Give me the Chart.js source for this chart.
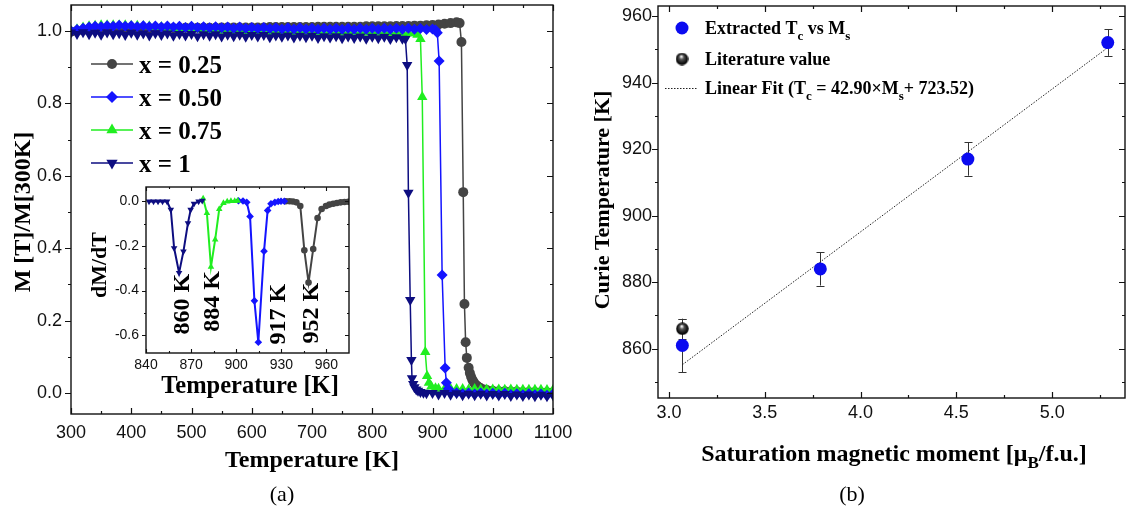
<!DOCTYPE html>
<html><head><meta charset="utf-8">
<script src="https://cdn.jsdelivr.net/npm/chart.js@4.4.0/dist/chart.umd.min.js"></script>
<style>
html,body{margin:0;padding:0;background:#fff;}
#wrap{position:relative;width:1128px;height:516px;overflow:hidden;background:#fff;}
canvas{position:absolute;}
</style></head><body>
<div id="wrap">
<canvas id="cA" width="600" height="516" style="left:0;top:0;width:600px;height:516px"></canvas>
<canvas id="cB" width="564" height="516" style="left:564px;top:0;width:564px;height:516px"></canvas>
<canvas id="cI" width="280" height="220" style="left:80px;top:180px;width:280px;height:220px"></canvas>
</div>
<script>
// ================= DATA =================
// Panel (a): M(T)/M(300K)
const seriesNames = ['x = 0.25','x = 0.50','x = 0.75','x = 1'];

const tGray = [300,310,320,330,340,350,360,370,380,390,400,410,420,430,440,450,460,470,480,490,500,510,520,530,540,550,560,570,580,590,600,610,620,630,640,650,660,670,680,690,700,710,720,730,740,750,760,770,780,790,800,810,820,830,840,850,860,870,880,890,900,910,920,930,940,
  945,948,951,953,955,957,960,962,964,966,968,970,973,976,980,985,990,
  1000,1010,1020,1030,1040,1050,1060,1070,1080,1090,1100];
const mGray = [0.998,1.000,1.002,1.003,1.004,1.005,1.005,1.006,1.006,1.006,
  1.007,1.007,1.007,1.007,1.008,1.008,1.008,1.008,1.008,1.009,
  1.009,1.009,1.009,1.009,1.009,1.010,1.010,1.010,1.010,1.010,
  1.010,1.010,1.010,1.011,1.011,1.011,1.011,1.011,1.011,1.011,
  1.011,1.012,1.012,1.012,1.012,1.012,1.012,1.012,1.012,1.013,
  1.013,1.013,1.013,1.013,1.014,1.014,1.014,1.015,1.015,1.016,
  1.017,1.018,1.020,1.022,1.024,
  1.022,0.970,0.555,0.246,0.140,0.097,0.070,0.055,0.045,0.037,0.031,0.026,0.021,0.017,0.013,0.010,0.008,
  0.006,0.005,0.005,0.004,0.004,0.003,0.003,0.003,0.002,0.002,0.002];

const tBlue = [300,310,320,330,340,350,360,370,380,390,400,410,420,430,440,450,460,470,480,490,500,510,520,530,540,550,560,570,580,590,600,610,620,630,640,650,660,670,680,690,700,710,720,730,740,750,760,770,780,790,800,810,820,830,840,850,860,870,880,890,900,
  905,908,911,916,921,923,926,930,
  940,950,960,970,980,990,1000,1010,1020,1030,1040,1050,1060,1070,1080,1090,1100];
const mBlue = [1.000,1.004,1.008,1.011,1.013,1.012,1.015,1.013,1.016,1.013,
  1.015,1.012,1.015,1.012,1.014,1.011,1.014,1.011,1.013,1.010,
  1.013,1.010,1.012,1.009,1.012,1.009,1.011,1.008,1.011,1.008,
  1.010,1.007,1.010,1.007,1.009,1.006,1.009,1.006,1.009,1.006,
  1.008,1.005,1.008,1.005,1.008,1.005,1.008,1.005,1.008,1.005,
  1.008,1.005,1.008,1.005,1.008,1.005,1.008,1.005,1.007,1.004,
  1.006,
  1.003,0.995,0.917,0.326,0.069,0.028,0.012,0.004,
  0.001,-0.002,0.000,-0.003,0.000,-0.003,-0.001,-0.004,-0.001,-0.004,-0.002,-0.005,-0.002,-0.005,-0.003,-0.006,-0.003];

const tGreen = [300,310,320,330,340,350,360,370,380,390,400,410,420,430,440,450,460,470,480,490,500,510,520,530,540,550,560,570,580,590,600,610,620,630,640,650,660,670,680,690,700,710,720,730,740,750,760,770,780,790,800,810,820,830,840,850,860,870,
  875,880,883,888,891,894,898,905,
  910,920,930,940,950,960,970,980,990,1000,1010,1020,1030,1040,1050,1060,1070,1080,1090,1100];
const mGreen = [1.000,1.005,1.010,1.013,1.015,1.016,1.016,1.016,1.016,1.016,
  1.015,1.015,1.014,1.013,1.012,1.011,1.010,1.009,1.008,1.007,
  1.006,1.005,1.004,1.003,1.002,1.001,1.000,0.999,0.999,0.998,
  0.998,0.997,0.997,0.997,0.996,0.996,0.996,0.996,0.996,0.996,
  0.996,0.996,0.995,0.995,0.995,0.995,0.995,0.995,0.995,0.995,
  0.995,0.995,0.995,0.994,0.994,0.994,0.994,0.994,
  0.990,0.978,0.818,0.113,0.047,0.028,0.018,0.013,
  0.012,0.011,0.012,0.011,0.011,0.010,0.011,0.010,0.010,0.010,0.010,0.009,0.010,0.009,0.009,0.009,0.009,0.009,0.008,0.008];

const tNavy = [300,310,320,330,340,350,360,370,380,390,400,410,420,430,440,450,460,470,480,490,500,510,520,530,540,550,560,570,580,590,600,610,620,630,640,650,660,670,680,690,700,710,720,730,740,750,760,770,780,790,800,810,820,830,840,850,
  855,858,860,863,865,866,868,870,873,876,880,885,890,900,
  910,920,930,940,950,960,970,980,990,1000,1010,1020,1030,1040,1050,1060,1070,1080,1090,1100];
const mNavy = [0.996,0.992,0.997,0.991,0.995,0.990,0.996,0.991,0.994,0.989,
  0.995,0.990,0.993,0.988,0.994,0.989,0.993,0.987,0.992,0.988,
  0.992,0.986,0.991,0.987,0.991,0.985,0.990,0.986,0.990,0.984,
  0.989,0.985,0.989,0.983,0.988,0.984,0.988,0.982,0.987,0.983,
  0.987,0.981,0.986,0.982,0.986,0.980,0.985,0.981,0.985,0.979,
  0.984,0.980,0.984,0.978,0.983,0.979,
  0.978,0.906,0.553,0.257,0.091,0.041,0.025,0.016,0.010,0.006,0.003,0.001,-0.001,0.000,
  -0.004,0.000,-0.005,-0.001,-0.006,-0.002,-0.006,-0.002,-0.007,-0.003,-0.007,-0.003,-0.008,-0.004,-0.008,-0.004,-0.009,-0.005,-0.009,-0.006];

const aXTicks = [300,400,500,600,700,800,900,1000,1100];
const aXMinor = [350,450,550,650,750,850,950,1050];
const aYTicks = [0,0.2,0.4,0.6,0.8,1.0];
const aYMinor = [0.1,0.3,0.5,0.7,0.9];

// Inset: dM/dT
const iNavyT = [842,845,848,851,854,856.5,858.7,862,864.9,867.9,869.7,871.9,875,877.4];
const iNavyV = [0,0,0,0,0,-0.037,-0.209,-0.32,-0.224,-0.097,-0.037,-0.01,0,0.004];
const iGreenT = [878,880.5,883.2,886,888.7,891.5,894,896.5,899,901];
const iGreenV = [0.013,-0.052,-0.293,-0.171,-0.034,-0.007,0,0.002,0.002,0.003];
const iBlueT = [901.5,904.5,907,909.2,912.1,914.7,918.5,920.9,923.1,925.7,927.9,929.8,932];
const iBlueV = [0.003,0.002,-0.004,-0.067,-0.446,-0.632,-0.223,-0.04,-0.01,-0.004,0,0.001,0.001];
const iGrayT = [933,935.5,937.7,940,942.6,945.3,948.1,951.2,954.1,956.8,959.7,962,964.5,967,969.5,972,974.5];
const iGrayV = [0.001,0.001,0,-0.004,-0.02,-0.219,-0.364,-0.213,-0.074,-0.034,-0.02,-0.014,-0.01,-0.007,-0.004,-0.002,-0.001];
const iXTicks = [840,870,900,930,960];
const iXMinor = [855,885,915,945];
const iYTicks = [0,-0.2,-0.4,-0.6];
const iYMinor = [-0.1,-0.3,-0.5];
const peakLabels = ['860 K','884 K','917 K','952 K'];
const peakLabelT = [863,883.4,926.8,949.2];
const peakLabelV = [-0.461,-0.448,-0.506,-0.501];

// Panel (b): Curie temperature vs saturation moment
const msVals = [3.07,3.79,4.56,5.29];
const tcVals = [861,884,917,952];
const tcErr = [8,5,5,4];
const litMs = [3.07];
const litTc = [866];
const litErr = [3];
const fitMs = [3.07,5.29];
const fitTc = [855.2,950.5];
const bXTicks = [3.0,3.5,4.0,4.5,5.0];
const bXMinor = [3.25,3.75,4.25,4.75,5.25];
const bYTicks = [860,880,900,920,940,960];
const bYMinor = [850,870,890,910,930,950];

// ================= HELPERS =================
const SERIF = '"Liberation Serif","Times New Roman",serif';
const SANS = '"Liberation Sans",Arial,sans-serif';
Chart.defaults.font.family = SANS;

function pts(xs, ys){ return xs.map((x,i)=>({x:x, y:ys[i]})); }

function richText(ctx, parts, x, y, size, opts){
  opts = opts || {};
  ctx.save();
  ctx.translate(x, y);
  if (opts.rot) ctx.rotate(opts.rot);
  const weight = opts.weight || 'bold';
  const f = sub => weight + ' ' + (sub ? Math.round(size*0.7) : size) + 'px ' + SERIF;
  let w = 0;
  parts.forEach(p => { ctx.font = f(p[1]); w += ctx.measureText(p[0]).width; });
  let cx = opts.align === 'left' ? 0 : -w/2;
  ctx.fillStyle = opts.color || '#000';
  ctx.textBaseline = 'alphabetic';
  const base = size*0.34;
  parts.forEach(p => {
    ctx.font = f(p[1]);
    ctx.fillText(p[0], cx, base + (p[1] ? size*0.3 : 0));
    cx += ctx.measureText(p[0]).width;
  });
  ctx.restore();
}

function marker(ctx, style, x, y, r, color){
  ctx.save(); ctx.fillStyle = color; ctx.beginPath();
  if (style === 'circle') ctx.arc(x, y, r, 0, 2*Math.PI);
  else if (style === 'diamond') { ctx.moveTo(x, y-r); ctx.lineTo(x+r, y); ctx.lineTo(x, y+r); ctx.lineTo(x-r, y); ctx.closePath(); }
  else if (style === 'up') { ctx.moveTo(x, y-r); ctx.lineTo(x+r*0.866, y+r*0.5); ctx.lineTo(x-r*0.866, y+r*0.5); ctx.closePath(); }
  else if (style === 'down') { ctx.moveTo(x, y+r); ctx.lineTo(x+r*0.866, y-r*0.5); ctx.lineTo(x-r*0.866, y-r*0.5); ctx.closePath(); }
  ctx.fill(); ctx.restore();
}

function drawFrame(chart, o){
  const ctx = chart.ctx, a = chart.chartArea, xs = chart.scales.x, ys = chart.scales.y;
  ctx.save();
  ctx.strokeStyle = '#111'; ctx.lineWidth = o.lw;
  const L = a.left, R = a.right, T = a.top, B = a.bottom;
  ctx.strokeRect(L, T, R-L, B-T);
  ctx.lineWidth = o.tw;
  ctx.beginPath();
  const vx = (v, len) => { const p = Math.round(xs.getPixelForValue(v))+0.5; ctx.moveTo(p, B); ctx.lineTo(p, B-len); ctx.moveTo(p, T); ctx.lineTo(p, T+len); };
  const vy = (v, len) => { const p = Math.round(ys.getPixelForValue(v))+0.5; ctx.moveTo(L, p); ctx.lineTo(L-len, p); ctx.moveTo(R, p); ctx.lineTo(R-len, p); };
  o.xMaj.forEach(v => vx(v, o.maj)); o.xMin.forEach(v => vx(v, o.min));
  o.yMaj.forEach(v => vy(v, o.maj)); o.yMin.forEach(v => vy(v, o.min));
  ctx.stroke();
  ctx.restore();
}

function axis(min, max, ticks, fmt, pad, size, fitKey, fitVal){
  return {
    type:'linear', min:min, max:max,
    afterBuildTicks: s => { s.ticks = ticks.map(v => ({value:v})); },
    afterFit: s => { s[fitKey] = fitVal; s.paddingTop = 0; s.paddingBottom = 0; s.paddingLeft = 0; s.paddingRight = 0; },
    grid:{display:false, drawTicks:false}, border:{display:false},
    ticks:{padding:pad, font:{size:size, family:SANS}, color:'#111', autoSkip:false, maxRotation:0, minRotation:0, callback: fmt}
  };
}

function ds(xs, ys, color, style, rot, r, order, lw){
  return {data:pts(xs,ys), showLine:true, borderColor:color, backgroundColor:color, borderWidth:lw,
    pointStyle:style, pointRotation:rot, pointRadius:r, pointHoverRadius:r, pointBorderWidth:0,
    pointBackgroundColor:color, order:order, tension:0};
}

const baseOpts = {responsive:false, animation:false, devicePixelRatio:1, events:[],
  plugins:{legend:{display:false}, tooltip:{enabled:false}}};

const cNavy = '#0d0d80', cBlue = '#1414ff', cGreen = '#20ee20', cGray = '#444444';

// ================= PANEL (a) =================
new Chart(document.getElementById('cA'), {
  type:'scatter',
  data:{datasets:[
    ds(tNavy, mNavy, cNavy, 'triangle', 180, 6, 0, 1.5),
    ds(tBlue, mBlue, cBlue, 'rectRot', 0, 5.5, 1, 1.5),
    ds(tGreen, mGreen, cGreen, 'triangle', 0, 6, 2, 1.5),
    ds(tGray, mGray, cGray, 'circle', 0, 5, 3, 1.5)
  ]},
  options:Object.assign({}, baseOpts, {
    layout:{padding:{left:0,right:47,top:5,bottom:0}, autoPadding:false},
    scales:{
      x: axis(300, 1100, aXTicks, v => String(v), 8, 18, 'height', 102),
      y: axis(-0.058, 1.072, aYTicks, v => Number(v).toFixed(1), 9, 18, 'width', 71)
    }
  }),
  plugins:[{id:'decoA', afterDraw(chart){
    const ctx = chart.ctx;
    drawFrame(chart, {lw:1.4, tw:1.2, maj:6, min:3, xMaj:aXTicks, xMin:aXMinor, yMaj:aYTicks, yMin:aYMinor});
    richText(ctx, [['M [T]/M[300K]']], 22, 212, 24, {rot:-Math.PI/2});
    richText(ctx, [['Temperature [K]']], 312, 459, 24);
    richText(ctx, [['(a)']], 282, 494, 22, {weight:'normal'});
    const rows = [[cGray,'circle',5],[cBlue,'diamond',6],[cGreen,'up',6.5],[cNavy,'down',6.5]];
    const ry = [64, 97, 130, 163];
    rows.forEach((r,i) => {
      ctx.save(); ctx.strokeStyle = r[0]; ctx.lineWidth = 1.5;
      ctx.beginPath(); ctx.moveTo(91, ry[i]); ctx.lineTo(133, ry[i]); ctx.stroke(); ctx.restore();
      marker(ctx, r[1], 112, ry[i], r[2], r[0]);
      richText(ctx, [[seriesNames[i]]], 139, ry[i], 25, {align:'left'});
    });
  }}]
});

// ================= INSET =================
new Chart(document.getElementById('cI'), {
  type:'scatter',
  data:{datasets:[
    ds(iNavyT, iNavyV, cNavy, 'triangle', 180, 3.8, 0, 2),
    ds(iGreenT, iGreenV, cGreen, 'triangle', 0, 3.8, 1, 2),
    ds(iBlueT, iBlueV, cBlue, 'rectRot', 0, 3.8, 2, 2),
    ds(iGrayT, iGrayV, cGray, 'circle', 0, 3.3, 3, 2)
  ]},
  options:Object.assign({}, baseOpts, {
    layout:{padding:{left:0,right:11,top:7,bottom:0}, autoPadding:false},
    scales:{
      x: axis(840, 975, iXTicks, v => String(v), 4, 14, 'height', 47),
      y: axis(-0.68, 0.065, iYTicks, v => Number(v).toFixed(1), 7, 14, 'width', 66)
    }
  }),
  plugins:[{id:'decoI',
    beforeDatasetsDraw(chart){
      const a = chart.chartArea, ctx = chart.ctx;
      ctx.save(); ctx.fillStyle = '#fff'; ctx.fillRect(a.left, a.top, a.right-a.left, a.bottom-a.top); ctx.restore();
    },
    afterDraw(chart){
      const ctx = chart.ctx, xs = chart.scales.x, ys = chart.scales.y;
      drawFrame(chart, {lw:1.4, tw:1.1, maj:4, min:2, xMaj:iXTicks, xMin:iXMinor, yMaj:iYTicks, yMin:iYMinor});
      peakLabels.forEach((t,i) => {
        richText(ctx, [[t]], xs.getPixelForValue(peakLabelT[i]), ys.getPixelForValue(peakLabelV[i]), 24, {rot:-Math.PI/2});
      });
      richText(ctx, [['dM/dT']], 19, 85, 22, {rot:-Math.PI/2});
      richText(ctx, [['Temperature [K]']], 170, 205, 24.5);
    }}]
});

// ================= PANEL (b) =================
function sphere(d){
  const c = document.createElement('canvas'); c.width = d; c.height = d;
  const g = c.getContext('2d');
  const gr = g.createRadialGradient(d*0.45, d*0.3, d*0.04, d/2, d/2, d/2);
  gr.addColorStop(0, '#f4f4f4'); gr.addColorStop(0.3, '#555'); gr.addColorStop(0.75, '#111'); gr.addColorStop(1, '#000');
  g.fillStyle = gr; g.beginPath(); g.arc(d/2, d/2, d/2-0.3, 0, 2*Math.PI); g.fill();
  return c;
}
const sph = sphere(13);
const cBlueB = '#0b0bf0';

new Chart(document.getElementById('cB'), {
  type:'scatter',
  data:{datasets:[
    {data:pts(fitMs, fitTc), showLine:true, borderColor:'#222', borderWidth:1, borderDash:[1.5,1.5], pointRadius:0, order:2},
    {data:pts(msVals, tcVals), showLine:false, pointStyle:'circle', pointRadius:6.5, pointHoverRadius:6.5, pointBackgroundColor:cBlueB, pointBorderColor:cBlueB, pointBorderWidth:0, order:1},
    {data:pts(litMs, litTc), showLine:false, pointStyle:sph, pointRadius:6.5, order:0}
  ]},
  options:Object.assign({}, baseOpts, {
    layout:{padding:{left:0,right:3,top:6,bottom:0}, autoPadding:false},
    scales:{
      x: axis(2.943, 5.38, bXTicks, v => Number(v).toFixed(1), 4, 18, 'height', 118),
      y: axis(845.2, 963, bYTicks, v => String(v), 6, 18, 'width', 94)
    }
  }),
  plugins:[{id:'decoB',
    beforeDatasetsDraw(chart){
      const ctx = chart.ctx, xs = chart.scales.x, ys = chart.scales.y;
      ctx.save(); ctx.strokeStyle = '#333'; ctx.lineWidth = 1;
      const eb = (mx, t, e) => {
        const px = Math.round(xs.getPixelForValue(mx))+0.5;
        const y1 = ys.getPixelForValue(t+e), y2 = ys.getPixelForValue(t-e);
        ctx.beginPath(); ctx.moveTo(px, y1); ctx.lineTo(px, y2);
        ctx.moveTo(px-4, Math.round(y1)+0.5); ctx.lineTo(px+4, Math.round(y1)+0.5);
        ctx.moveTo(px-4, Math.round(y2)+0.5); ctx.lineTo(px+4, Math.round(y2)+0.5);
        ctx.stroke();
      };
      msVals.forEach((m,i) => eb(m, tcVals[i], tcErr[i]));
      litMs.forEach((m,i) => eb(m, litTc[i], litErr[i]));
      ctx.restore();
    },
    afterDraw(chart){
      const ctx = chart.ctx;
      drawFrame(chart, {lw:1.4, tw:1.2, maj:6, min:3, xMaj:bXTicks, xMin:bXMinor, yMaj:bYTicks, yMin:bYMinor});
      richText(ctx, [['Curie Temperature [K]']], 38, 200, 22, {rot:-Math.PI/2});
      richText(ctx, [['Saturation magnetic moment [\u03bc'],['B',true],['/f.u.]']], 330, 453, 24);
      richText(ctx, [['(b)']], 288, 494, 22, {weight:'normal'});
      // legend
      marker(ctx, 'circle', 118, 28, 6.5, cBlueB);
      richText(ctx, [['Extracted T'],['c',true],[' vs M'],['s',true]], 141, 28, 18, {align:'left'});
      ctx.drawImage(sph, 118-6.5, 59-6.5);
      richText(ctx, [['Literature value']], 141, 59, 18, {align:'left'});
      ctx.save(); ctx.strokeStyle = '#222'; ctx.lineWidth = 1; ctx.setLineDash([1.5,1.5]);
      ctx.beginPath(); ctx.moveTo(101, 88.5); ctx.lineTo(133, 88.5); ctx.stroke(); ctx.restore();
      richText(ctx, [['Linear Fit (T'],['c',true],[' = 42.90\u00d7M'],['s',true],['+ 723.52)']], 141, 88, 18, {align:'left'});
    }}]
});
</script>
</body></html>
